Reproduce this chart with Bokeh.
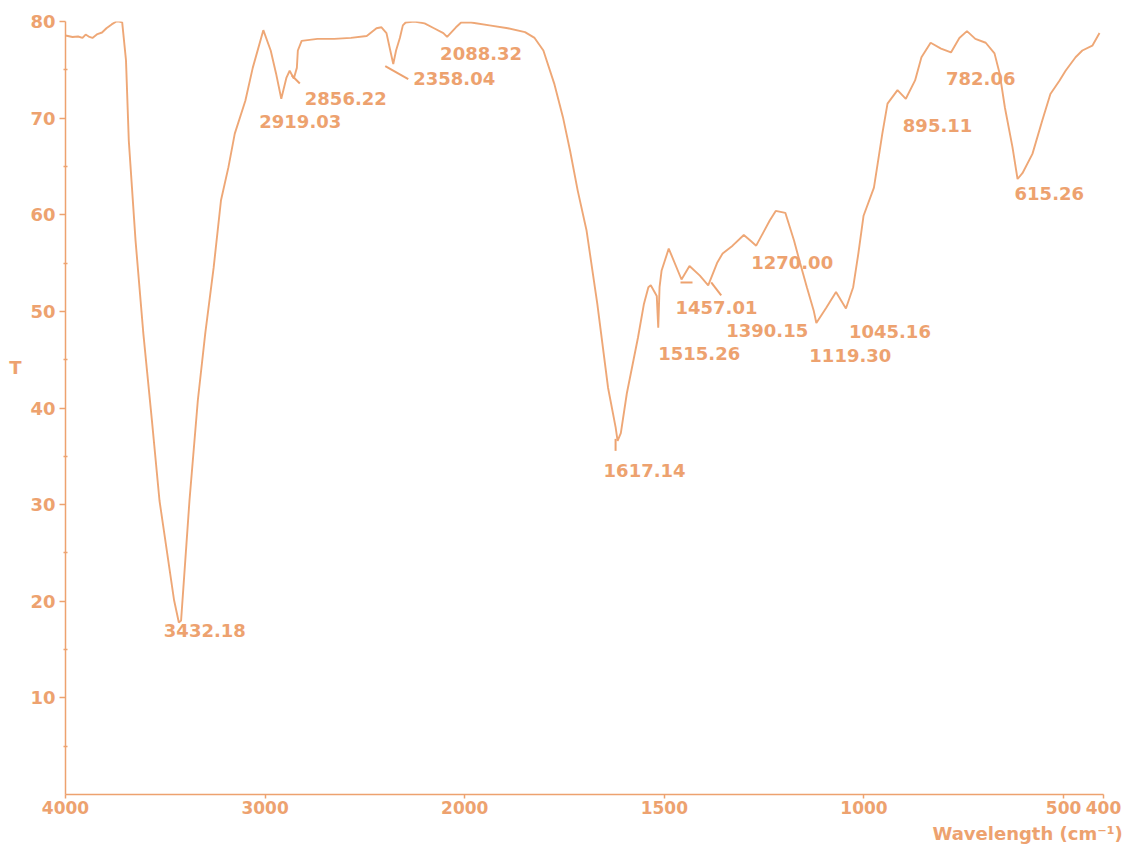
import numpy as np
from bokeh.plotting import figure
from bokeh.models import FixedTicker, LinearAxis, Range1d
from bokeh.embed import file_html
from bokeh.resources import INLINE
from bokeh.core.properties import value

# FTIR transmission spectrum (wavenumber in cm-1, transmittance T)
wavenumber = [
    4000, 3965, 3937, 3915, 3899, 3880, 3865, 3840, 3817, 3795, 3769, 3745, 3731, 3716,
    3697, 3683, 3649, 3610, 3567, 3529, 3456, 3432.18, 3421, 3379, 3337, 3300, 3258,
    3221, 3184, 3152, 3099, 3062, 3009, 2972, 2945, 2919.03, 2893, 2877, 2856.22, 2841,
    2836, 2817, 2738, 2654, 2570, 2491, 2442, 2417, 2392, 2373, 2358.04, 2344, 2325,
    2310, 2296, 2253, 2201, 2154, 2107, 2088.32, 2044, 2018, 1984, 1938, 1892, 1849,
    1825, 1803, 1776, 1754, 1736, 1717, 1695, 1668, 1641, 1622, 1617.14, 1609, 1594,
    1579, 1566, 1551, 1540, 1534, 1519, 1515.26, 1512, 1507, 1489, 1457.01, 1437, 1411,
    1390.15, 1368, 1354, 1329, 1301, 1284, 1270.00, 1253, 1236, 1221, 1197, 1175, 1160,
    1143, 1126, 1119.30, 1094, 1070, 1045.16, 1027, 1014, 1001, 975, 954, 941, 916,
    895.11, 872, 856, 833, 807, 782.06, 761, 742, 721, 695, 673, 660, 647, 628, 615.26,
    603, 578, 553, 533, 510, 495, 470, 453, 428, 410,
]
transmittance = [
    78.55, 78.4, 78.45, 78.3, 78.65, 78.4, 78.3, 78.7, 78.86, 79.3, 79.7, 80.0, 80.0, 79.9,
    76.0, 67.7, 57.3, 47.7, 38.7, 30.4, 20.1, 17.8, 18.0, 30.4, 40.8, 47.7, 54.5,
    61.5, 64.9, 68.4, 71.8, 75.2, 79.1, 77.0, 74.6, 72.0, 74.2, 74.9, 74.1, 75.2,
    77.0, 78.0, 78.2, 78.2, 78.3, 78.5, 79.3, 79.4, 78.8, 77.0, 75.6, 77.0, 78.3,
    79.6, 79.9, 80.0, 79.8, 79.3, 78.8, 78.4, 79.4, 79.9, 79.9, 79.6, 79.3, 78.9,
    78.3, 77.0, 73.6, 70.1, 66.6, 62.5, 58.4, 50.8, 42.1, 38.0, 36.6, 37.4, 41.5,
    44.6, 47.3, 50.8, 52.5, 52.7, 51.6, 48.3, 52.5, 54.2, 56.5, 53.3, 54.7, 53.7,
    52.7, 55.0, 56.0, 56.8, 57.9, 57.3, 56.8, 58.1, 59.4, 60.4, 60.2, 57.3, 55.0,
    52.5, 50.1, 48.8, 50.4, 52.0, 50.3, 52.5, 56.0, 59.9, 62.8, 68.4, 71.5, 72.9,
    72.0, 73.9, 76.3, 77.8, 77.2, 76.8, 78.3, 79.0, 78.2, 77.8, 76.7, 74.6, 71.1, 67.0, 63.7,
    64.3, 66.3, 69.8, 72.5, 73.9, 74.9, 76.3, 77.0, 77.5, 78.8,
]

# annotated absorption bands
peak_wavenumber = [3432.18, 2919.03, 2856.22, 2358.04, 2088.32, 1617.14, 1515.26,
                   1457.01, 1390.15, 1270.00, 1119.30, 1045.16, 895.11, 782.06, 615.26]

x_tick_values = [4000, 3000, 2000, 1500, 1000, 500, 400]
y_tick_values = [10, 20, 30, 40, 50, 60, 70, 80]
y_minor_ticks = [5, 15, 25, 35, 45, 55, 65, 75]

x_title = "Wavelength (cm\u207b\u00b9)"
y_title = "T"

COLOR = "#EDA26F"
FONT = "DejaVu Sans"


def axis_pos(wn):
    """Spectrometer chart scale: 1000 cm-1 per division above 2000, 500 below."""
    wn = np.asarray(wn, dtype=float)
    return np.where(wn >= 2000, (4000 - wn) / 1000.0, 2 + (2000 - wn) / 500.0)


W, H = 1124, 848
LEFT, RIGHT, TOP, BOTTOM = 65, 21, 21, 54
X_MAX, Y_MAX = 5.2, 80
PX_U = (W - LEFT - RIGHT) / X_MAX
PX_T = (H - TOP - BOTTOM) / Y_MAX

p = figure(width=W, height=H, output_backend="svg", toolbar_location=None,
           x_range=Range1d(0, X_MAX), y_range=Range1d(0, Y_MAX),
           min_border_left=LEFT, min_border_right=RIGHT,
           min_border_top=TOP, min_border_bottom=BOTTOM)
p.grid.visible = False
p.outline_line_color = None
p.background_fill_color = "white"
p.border_fill_color = "white"

wn = np.array(wavenumber, dtype=float)
tr = np.array(transmittance, dtype=float)
p.line(axis_pos(wn), tr, line_color=COLOR, line_width=1.9, line_alpha=0.95)

# peak labels, offset in screen pixels from each band minimum (dx right, dy down)
peak_t = np.interp(peak_wavenumber, wn[::-1], tr[::-1])
label_offsets = {
    3432.18: (-15, 8), 2919.03: (-22, 23), 2856.22: (11, 20), 2358.04: (20, 14),
    2088.32: (-7, 17), 1617.14: (-14, 30), 1515.26: (0, 26), 1457.01: (-6, 28),
    1390.15: (18, 45), 1270.00: (-5, 17), 1119.30: (-7, 33), 1045.16: (3, 23),
    895.11: (-3, 27), 782.06: (-5, 26), 615.26: (-3, 15),
}
px = axis_pos(peak_wavenumber)
lx = [u + label_offsets[w][0] / PX_U for u, w in zip(px, peak_wavenumber)]
ly = [t - label_offsets[w][1] / PX_T for t, w in zip(peak_t, peak_wavenumber)]
texts = [f"{w:.2f}" for w in peak_wavenumber]
p.text(x=lx, y=ly, text=texts, text_font=value(FONT), text_font_style="bold",
       text_font_size="18px", text_color=COLOR, text_baseline="alphabetic",
       text_align="left")

# short marker strokes next to some bands
leaders = {
    2856.22: (-2, -3, 6, 5), 2358.04: (-8, 2, 15, 15), 1617.14: (-2, -2, -2, 10),
    1457.01: (-1, 3, 11, 3), 1390.15: (3, -3, 13, 10),
}
lw = list(leaders.keys())
lu = axis_pos(lw)
lt = np.interp(lw, wn[::-1], tr[::-1])
p.segment(x0=[u + leaders[w][0] / PX_U for u, w in zip(lu, lw)],
          y0=[t - leaders[w][1] / PX_T for t, w in zip(lt, lw)],
          x1=[u + leaders[w][2] / PX_U for u, w in zip(lu, lw)],
          y1=[t - leaders[w][3] / PX_T for t, w in zip(lt, lw)],
          line_color=COLOR, line_width=2)

# x axis
xt = [float(v) for v in axis_pos(x_tick_values)]
p.xaxis.ticker = FixedTicker(ticks=xt)
p.xaxis.major_label_overrides = {u: str(v) for u, v in zip(xt, x_tick_values)}
p.xaxis.major_tick_in = 0
p.xaxis.major_tick_out = 4
p.xaxis.major_label_standoff = 2

# y axis
p.yaxis.ticker = FixedTicker(ticks=y_tick_values, minor_ticks=y_minor_ticks)
p.yaxis.major_tick_in = 0
p.yaxis.major_tick_out = 6
p.yaxis.minor_tick_in = 2
p.yaxis.minor_tick_out = 2
p.yaxis.major_label_standoff = 4

for ax in (p.xaxis, p.yaxis):
    ax.axis_line_color = COLOR
    ax.axis_line_width = 1.5
    ax.major_tick_line_color = COLOR
    ax.major_tick_line_width = 1.5
    ax.minor_tick_line_width = 1.5
    ax.major_label_text_color = COLOR
    ax.major_label_text_font = FONT
    ax.major_label_text_font_style = "bold"
    ax.major_label_text_font_size = "18px"
p.xaxis.minor_tick_line_color = None
p.yaxis.minor_tick_line_color = COLOR
p.xaxis.major_label_text_font_size = "17px"


def title_axis(tick, text, standoff):
    """Bare axis carrying a single horizontal label used as an axis title."""
    ax = LinearAxis(ticker=FixedTicker(ticks=[tick]),
                    major_label_overrides={tick: text},
                    axis_line_color=None, major_tick_line_color=None,
                    minor_tick_line_color=None, major_label_standoff=standoff,
                    major_label_text_color=COLOR, major_label_text_font=FONT,
                    major_label_text_font_style="bold",
                    major_label_text_font_size="18px")
    return ax


# horizontal "T" beside the y axis, unit title under the right end of the x axis
p.add_layout(title_axis(44.2, y_title, 0), "left")
p.add_layout(title_axis(4.82, x_title, 0), "below")

open("out.html", "w").write(file_html(p, INLINE))
